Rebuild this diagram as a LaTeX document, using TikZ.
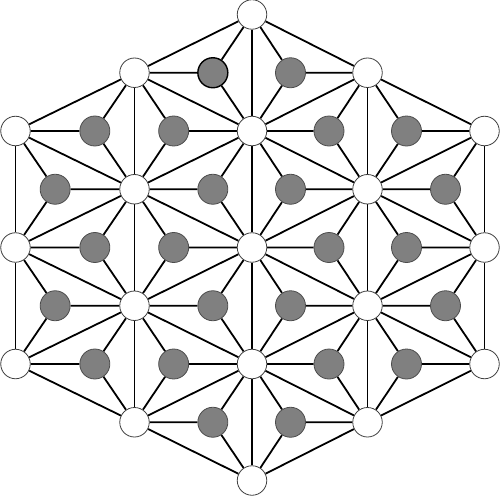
\documentclass[tikz,border=0pt]{standalone}
\usetikzlibrary{calc}
\pgfdeclarelayer{bg}
\pgfsetlayers{bg,main}
\begin{document}
\begin{tikzpicture}[x=1pt,y=1pt,
  wnode/.style={circle,draw=black!75,line width=0.8pt,fill=white,minimum size=29.5pt,inner sep=0pt},
  gnode/.style={circle,fill=black!50,minimum size=30pt,inner sep=0pt},
  link/.style={line width=1.8pt,black}]
\useasboundingbox (0,0) rectangle (500,496);
% white lattice nodes
\foreach \I in {0,...,4}{
  \foreach \J in {0,...,4}{
    \pgfmathtruncatemacro\s{\I+\J}
    \ifnum\s>1 \ifnum\s<7
      \pgfmathsetmacro\xx{{15.5,134.5,252,367.5,484.5}[\I]}
      \pgfmathsetmacro\yy{496-(247.5-116.5*(\J-2+(\I-2)/2))}
      \node[wnode] (w\I\J) at (\xx,\yy) {};
    \fi\fi
  }}
% gray centroid nodes
\foreach \I in {0,...,3}{
  \foreach \J in {0,...,4}{
    \pgfmathtruncatemacro\s{\I+\J}
    \pgfmathtruncatemacro\Ia{\I+1}
    \pgfmathtruncatemacro\Ja{\J+1}
    \pgfmathtruncatemacro\Jm{\J-1}
    % type A: (I,J),(I,J+1),(I+1,J)
    \ifnum\J<4 \ifnum\s>1 \ifnum\s<6
      \node[gnode,draw=black!70,line width=0.8pt] (ga\I\J) at ($0.33333*(w\I\J.center)+0.33333*(w\I\Ja.center)+0.33333*(w\Ia\J.center)$) {};
      \begin{pgfonlayer}{bg}
        \draw[link] (ga\I\J) -- (w\I\J);
        \draw[link] (ga\I\J) -- (w\I\Ja);
        \draw[link] (ga\I\J) -- (w\Ia\J);
      \end{pgfonlayer}
    \fi\fi\fi
    % type B: (I,J),(I+1,J),(I+1,J-1)
    \ifnum\J>0 \ifnum\s>1 \ifnum\s<6
      \def\bd{black!70}\def\lw{0.8pt}
      \ifnum\I=1 \ifnum\J=4 \def\bd{black}\def\lw{1.4pt}\fi\fi
      \node[gnode,draw=\bd,line width=\lw] (gb\I\J) at ($0.33333*(w\I\J.center)+0.33333*(w\Ia\J.center)+0.33333*(w\Ia\Jm.center)$) {};
      \begin{pgfonlayer}{bg}
        \draw[link] (gb\I\J) -- (w\I\J);
        \draw[link] (gb\I\J) -- (w\Ia\J);
        \draw[link] (gb\I\J) -- (w\Ia\Jm);
      \end{pgfonlayer}
    \fi\fi\fi
  }}
% white-white lattice edges
\begin{pgfonlayer}{bg}
\foreach \I in {0,...,4}{
  \foreach \J in {0,...,4}{
    \pgfmathtruncatemacro\s{\I+\J}
    \pgfmathtruncatemacro\Ia{\I+1}
    \pgfmathtruncatemacro\Ja{\J+1}
    \pgfmathtruncatemacro\Jm{\J-1}
    \ifnum\s>1 \ifnum\s<7
      \ifnum\J<4 \ifnum\s<6 \draw[link] (w\I\J) -- (w\I\Ja); \fi\fi
      \ifnum\I<4 \ifnum\s<6 \draw[link] (w\I\J) -- (w\Ia\J); \fi\fi
      \ifnum\I<4 \ifnum\J>0 \draw[link] (w\I\J) -- (w\Ia\Jm); \fi\fi
    \fi\fi
  }}
\end{pgfonlayer}
\end{tikzpicture}
\end{document}
